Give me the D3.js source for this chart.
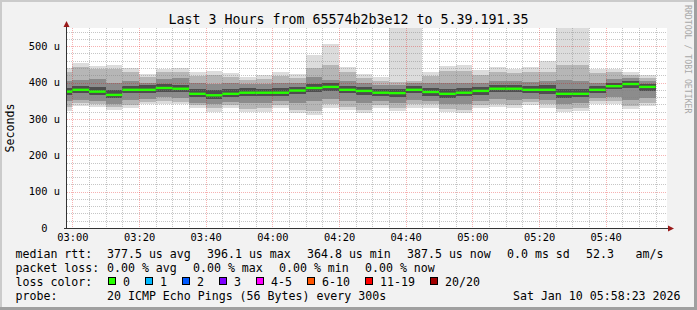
<!DOCTYPE html>
<html>
<head>
<meta charset="utf-8">
<script src="https://cdn.jsdelivr.net/npm/d3@7"></script>
<style>
body { margin: 0; background: #f2f2f2; }
svg text { font-family: "DejaVu Sans Mono", monospace; white-space: pre; }
</style>
</head>
<body>
<svg id="chart" width="697" height="310"></svg>
<script>
// one column per 5 minute step, first one starts 02:55 (clipped at graph start)
const median = [375, 380, 375, 366, 380, 380, 385, 383, 369, 365, 369, 372, 372, 372, 378, 385, 388, 380,
  377, 372, 371, 380, 374, 369, 372, 377, 383, 383, 380, 380, 369, 369, 380, 390, 396, 388];
// smoke bands, outer to inner (microseconds)
const maxV = [439, 454, 446, 448, 439, 423, 437, 440, 429, 432, 426, 416, 420, 429, 423, 476, 506, 442,
  423, 416, 600, 600, 429, 445, 448, 434, 442, 437, 442, 460, 600, 600, 438, 438, 429, 420];
const hi2 = [430, 443, 436, 438, 428, 415, 428, 430, 418, 420, 416, 408, 410, 418, 412, 440, 448, 430,
  412, 405, 402, 404, 418, 432, 433, 420, 430, 425, 430, 430, 448, 448, 425, 428, 420, 412];
const hi3 = [405, 407, 410, 400, 405, 400, 410, 412, 398, 395, 398, 395, 396, 398, 400, 415, 407, 405,
  398, 392, 392, 398, 400, 398, 398, 400, 405, 405, 402, 405, 407, 405, 400, 410, 412, 405];
const hi4 = [386, 391, 388, 380, 390, 392, 396, 394, 382, 379, 381, 384, 383, 384, 389, 396, 398, 391,
  387, 383, 383, 390, 385, 381, 384, 388, 394, 393, 391, 393, 382, 381, 390, 399, 404, 397];
const lo4 = [366, 371, 366, 357, 371, 371, 375, 374, 360, 356, 360, 362, 363, 362, 368, 374, 378, 371,
  367, 363, 361, 370, 364, 358, 362, 367, 373, 373, 370, 369, 358, 359, 371, 381, 386, 378];
const lo3 = [348, 352, 350, 342, 352, 356, 360, 358, 345, 340, 347, 343, 345, 348, 345, 348, 356, 350,
  345, 350, 344, 352, 350, 342, 340, 350, 355, 352, 356, 352, 342, 344, 358, 360, 352, 358];
const lo2 = [332, 343, 341, 333, 338, 347, 348, 347, 337, 329, 339, 327, 329, 337, 324, 322, 340, 333,
  325, 337, 330, 340, 340, 327, 325, 337, 341, 338, 346, 340, 328, 330, 348, 348, 336, 344];
const minV = [322, 335, 333, 325, 330, 340, 340, 340, 329, 320, 331, 318, 320, 329, 315, 312, 331, 324,
  315, 329, 321, 331, 331, 318, 315, 329, 333, 329, 338, 331, 318, 321, 341, 340, 326, 336];

const yTicks = [0, 100, 200, 300, 400, 500];
const rttStats = [377.5, 396.1, 364.8, 387.5];
const lossStats = [0, 0, 0, 0];
const statNames = ['avg', 'max', 'min', 'now'];
const lossLabels = ['0', '1', '2', '3', '4-5', '6-10', '11-19', '20/20'];
const lossColors = ['#26ff00', '#00b8ff', '#0059ff', '#7e00ff', '#ff00ff', '#ff5500', '#ff0000', '#a10000'];

const svg = d3.select('#chart');
const tStart = new Date(2026, 0, 10, 2, 58, 23);
const tEnd = new Date(2026, 0, 10, 5, 58, 23);
const firstCol = new Date(2026, 0, 10, 2, 55, 0);

const x = d3.scaleTime().domain([tStart, tEnd]).range([67, 667]);
const y = d3.scaleLinear().domain([0, 550]).range([228, 28]);

// frame
svg.append('rect').attr('width', 697).attr('height', 310).attr('fill', '#f2f2f2');
svg.append('rect').attr('width', 697).attr('height', 2).attr('fill', '#cbcbcb');
svg.append('rect').attr('width', 2).attr('height', 310).attr('fill', '#cbcbcb');
svg.append('rect').attr('x', 694).attr('width', 3).attr('height', 310).attr('fill', '#a0a0a0');
svg.append('rect').attr('y', 307).attr('width', 697).attr('height', 3).attr('fill', '#a0a0a0');

svg.append('rect').attr('x', 67).attr('y', 28).attr('width', 600).attr('height', 200).attr('fill', '#fff');

svg.append('clipPath').attr('id', 'plot')
  .append('rect').attr('x', 67).attr('y', 28).attr('width', 600).attr('height', 200);

// smoke
let cols = median.map((d, i) => ({
  i: i,
  t0: d3.timeMinute.offset(firstCol, 5 * i),
  t1: d3.timeMinute.offset(firstCol, 5 * i + 5)
}));

let bands = [
  {hi: maxV, lo: minV, color: '#dcdcdc'},
  {hi: hi2, lo: lo2, color: '#b6b6b6'},
  {hi: hi3, lo: lo3, color: '#8c8c8c'},
  {hi: hi4, lo: lo4, color: '#4e4e4e'}
];

let smoke = svg.append('g').attr('clip-path', 'url(#plot)').attr('shape-rendering', 'crispEdges');
bands.forEach(function(b) {
  smoke.append('g').selectAll('rect')
    .data(cols)
    .join('rect')
    .attr('x', d => x(d.t0))
    .attr('width', d => x(d.t1) - x(d.t0))
    .attr('y', d => y(b.hi[d.i]))
    .attr('height', d => y(b.lo[d.i]) - y(b.hi[d.i]))
    .attr('fill', b.color);
});

// grid
let grid = svg.append('g').attr('fill', 'none').attr('stroke-dasharray', '1,1');
let minorY = d3.range(20, 550, 20).filter(v => v % 100 != 0);
let minorX = x.ticks(d3.timeMinute.every(5)).filter(d => d.getMinutes() % 20 != 0);
let majorX = x.ticks(d3.timeMinute.every(20));

grid.selectAll('.hmin').data(minorY).join('line')
  .attr('x1', 67).attr('x2', 667)
  .attr('y1', d => Math.round(y(d)) + 0.5).attr('y2', d => Math.round(y(d)) + 0.5)
  .attr('stroke', 'rgba(128,128,128,0.45)');
grid.selectAll('.vmin').data(minorX).join('line')
  .attr('x1', d => Math.round(x(d)) + 0.5).attr('x2', d => Math.round(x(d)) + 0.5)
  .attr('y1', 28).attr('y2', 228)
  .attr('stroke', 'rgba(128,128,128,0.45)');
grid.selectAll('.hmaj').data(yTicks.slice(1)).join('line')
  .attr('x1', 67).attr('x2', 667)
  .attr('y1', d => Math.round(y(d)) + 0.5).attr('y2', d => Math.round(y(d)) + 0.5)
  .attr('stroke', 'rgba(225,0,0,0.3)');
grid.selectAll('.vmaj').data(majorX).join('line')
  .attr('x1', d => Math.round(x(d)) + 0.5).attr('x2', d => Math.round(x(d)) + 0.5)
  .attr('y1', 28).attr('y2', 228)
  .attr('stroke', 'rgba(225,0,0,0.3)');

// median, coloured by loss
svg.append('g').attr('clip-path', 'url(#plot)').selectAll('rect')
  .data(cols)
  .join('rect')
  .attr('x', d => x(d.t0))
  .attr('width', d => x(d.t1) - x(d.t0))
  .attr('y', d => y(median[d.i]) - 1.2)
  .attr('height', 2.4)
  .attr('fill', lossColors[0]);

// axes
let xAxis = svg.append('g')
  .attr('transform', 'translate(0,228)')
  .call(d3.axisBottom(x).ticks(d3.timeMinute.every(20)).tickFormat(d3.timeFormat('%H:%M')).tickSize(0).tickPadding(6));
let yAxis = svg.append('g')
  .attr('transform', 'translate(67,0)')
  .call(d3.axisLeft(y).tickValues(yTicks).tickFormat(v => v == 0 ? '0  ' : v + ' u').tickSize(0).tickPadding(7));
[xAxis, yAxis].forEach(function(a) {
  a.select('.domain').remove();
  a.selectAll('text').attr('font-family', '"DejaVu Sans Mono", monospace').attr('font-size', '10.4px').attr('fill', '#000');
});

svg.append('line').attr('x1', 64).attr('x2', 669).attr('y1', 228.5).attr('y2', 228.5).attr('stroke', '#333');
svg.append('line').attr('x1', 66.5).attr('x2', 66.5).attr('y1', 228.5).attr('y2', 26).attr('stroke', '#333');
svg.append('path').attr('d', 'M668,225.5L674,228.5L668,231.5Z').attr('fill', '#9a1a1a');
svg.append('path').attr('d', 'M63.5,27L66.5,21L69.5,27Z').attr('fill', '#9a1a1a');

// titles
svg.append('text').attr('x', 348.5).attr('y', 24).attr('text-anchor', 'middle')
  .attr('font-size', '13.3px').text('Last 3 Hours from 65574b2b3e12 to 5.39.191.35');
svg.append('text').attr('transform', 'translate(14,128) rotate(-90)').attr('text-anchor', 'middle')
  .attr('font-size', '11.6px').text('Seconds');
svg.append('text').attr('transform', 'translate(685,5) rotate(90)')
  .attr('font-size', '8.2px').attr('fill', '#a8a8a8').text('RRDTOOL / TOBI OETIKER');

// legend
let legend = svg.append('g').attr('font-size', '11.6px').attr('fill', '#000');
function put(txt, px, py) {
  legend.append('text').attr('x', px).attr('y', py).text(txt);
}
put('median rtt:', 15.5, 258);
rttStats.forEach((v, i) => put(v.toFixed(1) + ' us ' + statNames[i], 107 + 100 * i, 258));
put('0.0 ms sd', 507, 258);
put('52.3', 586, 258);
put('am/s', 635.5, 258);

put('packet loss:', 15.5, 272);
lossStats.forEach((v, i) => put(v.toFixed(2) + ' % ' + statNames[i], 107 + 86 * i, 272));

put('loss color:', 15.5, 286);
let lx = 108.5;
lossLabels.forEach(function(l, i) {
  legend.append('rect').attr('x', lx).attr('y', 277.5).attr('width', 7).attr('height', 7)
    .attr('fill', lossColors[i]).attr('stroke', '#000');
  put(l, lx + 14.5, 286);
  lx += 15 + l.length * 7 + 15;
});

put('probe:', 15.5, 300);
put('20 ICMP Echo Pings (56 Bytes) every 300s', 107, 300);
legend.append('text').attr('x', 680.5).attr('y', 300).attr('text-anchor', 'end').text('Sat Jan 10 05:58:23 2026');
</script>
</body>
</html>
